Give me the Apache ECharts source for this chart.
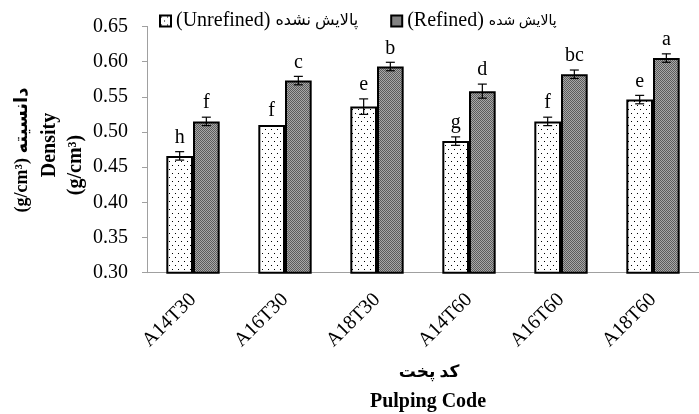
<!DOCTYPE html>
<html>
<head>
<meta charset="utf-8">
<script src="https://cdn.jsdelivr.net/npm/echarts@6/dist/echarts.min.js"></script>
<style>
  html, body { margin: 0; padding: 0; background: #fff; }
  #chart { width: 699px; height: 414px; }
</style>
</head>
<body>
<div id="chart"></div>
<script>
// Pulping codes and measured densities (g/cm3)
const categories = ['A14T30', 'A16T30', 'A18T30', 'A14T60', 'A16T60', 'A18T60'];
const unrefined = [0.466, 0.510, 0.536, 0.487, 0.515, 0.546];
const refined = [0.515, 0.573, 0.593, 0.558, 0.582, 0.605];
// Standard deviations
const unrefinedErr = [0.006, 0.000, 0.011, 0.006, 0.006, 0.006];
const refinedErr = [0.006, 0.006, 0.006, 0.010, 0.006, 0.006];
// Duncan grouping letters
const unrefinedLetters = ['h', 'f', 'e', 'g', 'f', 'e'];
const refinedLetters = ['f', 'c', 'b', 'd', 'bc', 'a'];
// Value axis range
const yMin = 0.30, yMax = 0.65, yStep = 0.05;

const serif = '"Liberation Serif", "Times New Roman", "DejaVu Sans", serif';

// Fill patterns: sparse dots for unrefined, fine grey checker for refined
function dotPattern() {
  const c = document.createElement('canvas');
  c.width = 6; c.height = 8;
  const g = c.getContext('2d');
  g.fillStyle = '#ffffff'; g.fillRect(0, 0, 6, 8);
  g.fillStyle = '#000000';
  g.fillRect(1, 1, 1, 1);
  g.fillRect(4, 5, 1, 1);
  return c;
}
function checkerPattern() {
  const c = document.createElement('canvas');
  c.width = 2; c.height = 2;
  const g = c.getContext('2d');
  g.fillStyle = '#a8a8a8'; g.fillRect(0, 0, 2, 2);
  g.fillStyle = '#5c5c5c';
  g.fillRect(0, 0, 1, 1);
  g.fillRect(1, 1, 1, 1);
  return c;
}
const dotFill = { image: dotPattern(), repeat: 'repeat' };
const checkFill = { image: checkerPattern(), repeat: 'repeat' };

// Legend names: Latin part and Persian part
const unrefinedName = '(Unrefined) پالایش نشده';
const refinedName = '(Refined) پالایش شده';

const barCategoryGap = 0.42;

// Error bars and grouping letters, positioned on the bar centres
function errorSeries(values, errs, letters, side) {
  return {
    type: 'custom',
    z: 5,
    silent: true,
    data: values.map((v, i) => [i, v, errs[i]]),
    encode: { x: 0, y: 1 },
    renderItem: function (params, api) {
      const i = api.value(0), v = api.value(1), e = api.value(2);
      const band = api.size([1, 0])[0];
      const barW = band * (1 - barCategoryGap) / 2;
      const cx = api.coord([i, v])[0] + side * barW / 2;
      const yTop = api.coord([i, v + e])[1];
      const yBot = api.coord([i, v - e])[1];
      const cap = 4.5;
      const lineStyle = { stroke: '#000', lineWidth: 1.2 };
      const children = [];
      if (e > 0) {
        children.push({ type: 'line', shape: { x1: cx, y1: yTop, x2: cx, y2: yBot }, style: lineStyle });
        children.push({ type: 'line', shape: { x1: cx - cap, y1: yTop, x2: cx + cap, y2: yTop }, style: lineStyle });
        children.push({ type: 'line', shape: { x1: cx - cap, y1: yBot, x2: cx + cap, y2: yBot }, style: lineStyle });
      }
      children.push({
        type: 'text',
        style: {
          x: cx, y: yTop - 4, text: letters[params.dataIndex],
          font: '20px ' + serif, fill: '#000',
          align: 'center', verticalAlign: 'bottom'
        }
      });
      return { type: 'group', children: children };
    }
  };
}

const chart = echarts.init(document.getElementById('chart'), null, { renderer: 'canvas' });

chart.setOption({
  animation: false,
  backgroundColor: '#fff',
  textStyle: { fontFamily: serif },
  grid: { left: 147, width: 561, top: 26.4, bottom: 141.3, containLabel: false },
  legend: {
    left: 154, top: 6,
    itemWidth: 11, itemHeight: 11, itemGap: 32,
    icon: 'rect',
    textStyle: {
      fontFamily: serif, fontSize: 20, color: '#000',
      rich: {
        lat: { fontFamily: serif, fontSize: 20, color: '#000' },
        fa1: { fontFamily: serif, fontSize: 16, color: '#000' },
        fa2: { fontFamily: serif, fontSize: 14, color: '#000' }
      }
    },
    formatter: function (name) {
      const k = name.indexOf(')') + 1;
      const style = name === unrefinedName ? 'fa1' : 'fa2';
      return '{lat|' + name.slice(0, k) + ' }{' + style + '|' + name.slice(k).trim() + '}';
    },
    data: [unrefinedName, refinedName]
  },
  xAxis: {
    type: 'category',
    data: categories,
    axisLine: { lineStyle: { color: '#a0a0a0', width: 1 } },
    axisTick: { show: false },
    axisLabel: { rotate: 45, fontSize: 20, color: '#000', fontFamily: serif, margin: 24 }
  },
  yAxis: {
    type: 'value',
    min: yMin, max: yMax, interval: yStep,
    axisLine: { show: true, lineStyle: { color: '#a0a0a0', width: 1 } },
    axisTick: { show: true, length: 5, lineStyle: { color: '#a0a0a0' } },
    splitLine: { show: false },
    axisLabel: {
      fontSize: 20, color: '#000', fontFamily: serif, margin: 19,
      formatter: v => v.toFixed(2)
    }
  },
  series: [
    {
      name: unrefinedName, type: 'bar', data: unrefined,
      barGap: '0%', barCategoryGap: (barCategoryGap * 100) + '%',
      itemStyle: { color: dotFill, borderColor: '#000', borderWidth: 2 }
    },
    {
      name: refinedName, type: 'bar', data: refined,
      barGap: '0%', barCategoryGap: (barCategoryGap * 100) + '%',
      itemStyle: { color: checkFill, borderColor: '#000', borderWidth: 2 }
    },
    errorSeries(unrefined, unrefinedErr, unrefinedLetters, -1),
    errorSeries(refined, refinedErr, refinedLetters, 1)
  ],
  graphic: [
    { type: 'text', x: 22, y: 150, rotation: Math.PI / 2,
      style: { text: '(g/cm³) دانسیته', font: 'bold 18px ' + serif, fill: '#000', align: 'center', verticalAlign: 'middle' } },
    { type: 'text', x: 50, y: 145, rotation: Math.PI / 2,
      style: { text: 'Density', font: 'bold 20px ' + serif, fill: '#000', align: 'center', verticalAlign: 'middle' } },
    { type: 'text', x: 76, y: 165, rotation: Math.PI / 2,
      style: { text: '(g/cm³)', font: 'bold 20px ' + serif, fill: '#000', align: 'center', verticalAlign: 'middle' } },
    { type: 'text', x: 429, y: 373,
      style: { text: 'کد پخت', font: 'bold 17px ' + serif, fill: '#000', align: 'center', verticalAlign: 'middle' } },
    { type: 'text', x: 428, y: 402,
      style: { text: 'Pulping Code', font: 'bold 20px ' + serif, fill: '#000', align: 'center', verticalAlign: 'middle' } }
  ]
});
</script>
</body>
</html>
